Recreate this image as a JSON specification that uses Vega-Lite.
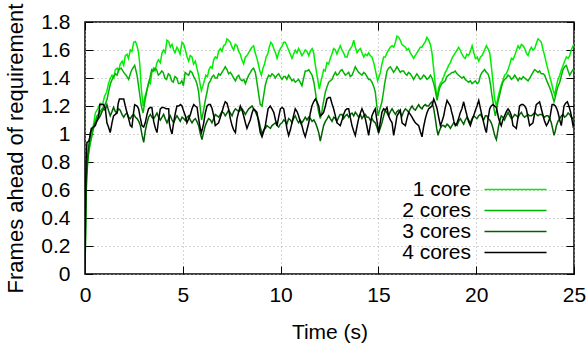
{"$schema":"https://vega.github.io/schema/vega-lite/v6.json",
"width":489,"height":252,
"autosize":{"type":"none"},
"padding":{"left":85,"top":22,"right":13,"bottom":69},
"background":"white",
"config":{"font":"Liberation Sans","view":{"stroke":"#000","strokeWidth":1.5},
"axis":{"domain":false,"labelFont":"Liberation Sans","labelFontSize":21,"labelColor":"#000","titleFont":"Liberation Sans","titleFontSize":21,"titleFontWeight":"normal","titleColor":"#000","tickColor":"#000","tickWidth":1,"tickSize":-8,"gridColor":"#a8a8a8","gridDash":[1,3],"gridWidth":1,"labelFlush":false,"labelOverlap":false}},
"data":{"values":[
{"s":1,"t":0,"v":0},{"s":1,"t":0.04,"v":0.5},{"s":1,"t":0.08,"v":0.72},{"s":1,"t":0.15,"v":0.84},{"s":1,"t":0.25,"v":0.93},{"s":1,"t":0.35,"v":1.0},{"s":1,"t":0.45,"v":1.08},{"s":1,"t":0.53,"v":1.15},{"s":1,"t":0.65,"v":1.18},{"s":1,"t":0.78,"v":1.22},{"s":1,"t":0.9,"v":1.21},{"s":1,"t":1.0,"v":1.27},{"s":1,"t":1.11,"v":1.3},{"s":1,"t":1.2,"v":1.36},{"s":1,"t":1.3,"v":1.4},{"s":1,"t":1.38,"v":1.42},{"s":1,"t":1.47,"v":1.4},{"s":1,"t":1.55,"v":1.46},{"s":1,"t":1.65,"v":1.47},{"s":1,"t":1.72,"v":1.45},{"s":1,"t":1.8,"v":1.5},{"s":1,"t":1.9,"v":1.52},{"s":1,"t":1.98,"v":1.49},{"s":1,"t":2.06,"v":1.56},{"s":1,"t":2.15,"v":1.57},{"s":1,"t":2.22,"v":1.54},{"s":1,"t":2.32,"v":1.6},{"s":1,"t":2.4,"v":1.59},{"s":1,"t":2.49,"v":1.655},{"s":1,"t":2.58,"v":1.66},{"s":1,"t":2.66,"v":1.63},{"s":1,"t":2.74,"v":1.58},{"s":1,"t":2.8,"v":1.5},{"s":1,"t":2.88,"v":1.32},{"s":1,"t":2.97,"v":1.2},{"s":1,"t":3.07,"v":1.27},{"s":1,"t":3.17,"v":1.32},{"s":1,"t":3.27,"v":1.37},{"s":1,"t":3.34,"v":1.36},{"s":1,"t":3.42,"v":1.44},{"s":1,"t":3.5,"v":1.47},{"s":1,"t":3.58,"v":1.45},{"s":1,"t":3.68,"v":1.51},{"s":1,"t":3.76,"v":1.53},{"s":1,"t":3.85,"v":1.51},{"s":1,"t":3.94,"v":1.58},{"s":1,"t":4.02,"v":1.6},{"s":1,"t":4.1,"v":1.58},{"s":1,"t":4.19,"v":1.67},{"s":1,"t":4.28,"v":1.66},{"s":1,"t":4.36,"v":1.62},{"s":1,"t":4.45,"v":1.64},{"s":1,"t":4.53,"v":1.6},{"s":1,"t":4.6,"v":1.58},{"s":1,"t":4.7,"v":1.62},{"s":1,"t":4.78,"v":1.6},{"s":1,"t":4.86,"v":1.57},{"s":1,"t":4.96,"v":1.655},{"s":1,"t":5.05,"v":1.64},{"s":1,"t":5.13,"v":1.6},{"s":1,"t":5.22,"v":1.55},{"s":1,"t":5.3,"v":1.52},{"s":1,"t":5.38,"v":1.56},{"s":1,"t":5.47,"v":1.55},{"s":1,"t":5.55,"v":1.5},{"s":1,"t":5.64,"v":1.52},{"s":1,"t":5.72,"v":1.47},{"s":1,"t":5.81,"v":1.42},{"s":1,"t":5.88,"v":1.36},{"s":1,"t":5.95,"v":1.31},{"s":1,"t":6.02,"v":1.34},{"s":1,"t":6.1,"v":1.38},{"s":1,"t":6.18,"v":1.42},{"s":1,"t":6.26,"v":1.41},{"s":1,"t":6.34,"v":1.46},{"s":1,"t":6.42,"v":1.48},{"s":1,"t":6.5,"v":1.47},{"s":1,"t":6.58,"v":1.53},{"s":1,"t":6.66,"v":1.55},{"s":1,"t":6.75,"v":1.54},{"s":1,"t":6.83,"v":1.59},{"s":1,"t":6.92,"v":1.61},{"s":1,"t":7.0,"v":1.59},{"s":1,"t":7.09,"v":1.63},{"s":1,"t":7.18,"v":1.64},{"s":1,"t":7.26,"v":1.68},{"s":1,"t":7.34,"v":1.67},{"s":1,"t":7.43,"v":1.655},{"s":1,"t":7.52,"v":1.62},{"s":1,"t":7.6,"v":1.6},{"s":1,"t":7.68,"v":1.64},{"s":1,"t":7.77,"v":1.63},{"s":1,"t":7.86,"v":1.59},{"s":1,"t":7.94,"v":1.57},{"s":1,"t":8.02,"v":1.53},{"s":1,"t":8.11,"v":1.5},{"s":1,"t":8.2,"v":1.55},{"s":1,"t":8.28,"v":1.56},{"s":1,"t":8.36,"v":1.58},{"s":1,"t":8.45,"v":1.6},{"s":1,"t":8.54,"v":1.62},{"s":1,"t":8.62,"v":1.63},{"s":1,"t":8.7,"v":1.58},{"s":1,"t":8.79,"v":1.54},{"s":1,"t":8.86,"v":1.5},{"s":1,"t":8.94,"v":1.45},{"s":1,"t":9.02,"v":1.42},{"s":1,"t":9.1,"v":1.47},{"s":1,"t":9.18,"v":1.5},{"s":1,"t":9.26,"v":1.55},{"s":1,"t":9.34,"v":1.57},{"s":1,"t":9.42,"v":1.62},{"s":1,"t":9.5,"v":1.655},{"s":1,"t":9.58,"v":1.64},{"s":1,"t":9.65,"v":1.61},{"s":1,"t":9.74,"v":1.58},{"s":1,"t":9.82,"v":1.54},{"s":1,"t":9.9,"v":1.58},{"s":1,"t":9.99,"v":1.61},{"s":1,"t":10.08,"v":1.63},{"s":1,"t":10.16,"v":1.655},{"s":1,"t":10.24,"v":1.655},{"s":1,"t":10.32,"v":1.63},{"s":1,"t":10.41,"v":1.6},{"s":1,"t":10.5,"v":1.57},{"s":1,"t":10.58,"v":1.54},{"s":1,"t":10.66,"v":1.57},{"s":1,"t":10.75,"v":1.6},{"s":1,"t":10.84,"v":1.58},{"s":1,"t":10.92,"v":1.61},{"s":1,"t":11.0,"v":1.59},{"s":1,"t":11.09,"v":1.56},{"s":1,"t":11.18,"v":1.58},{"s":1,"t":11.26,"v":1.6},{"s":1,"t":11.35,"v":1.59},{"s":1,"t":11.44,"v":1.56},{"s":1,"t":11.52,"v":1.59},{"s":1,"t":11.61,"v":1.61},{"s":1,"t":11.69,"v":1.58},{"s":1,"t":11.78,"v":1.49},{"s":1,"t":11.86,"v":1.42},{"s":1,"t":11.98,"v":1.32},{"s":1,"t":12.08,"v":1.39},{"s":1,"t":12.14,"v":1.42},{"s":1,"t":12.2,"v":1.46},{"s":1,"t":12.28,"v":1.45},{"s":1,"t":12.37,"v":1.51},{"s":1,"t":12.46,"v":1.5},{"s":1,"t":12.54,"v":1.54},{"s":1,"t":12.62,"v":1.57},{"s":1,"t":12.71,"v":1.61},{"s":1,"t":12.8,"v":1.6},{"s":1,"t":12.88,"v":1.57},{"s":1,"t":12.96,"v":1.6},{"s":1,"t":13.05,"v":1.63},{"s":1,"t":13.14,"v":1.6},{"s":1,"t":13.22,"v":1.58},{"s":1,"t":13.3,"v":1.55},{"s":1,"t":13.4,"v":1.55},{"s":1,"t":13.48,"v":1.59},{"s":1,"t":13.57,"v":1.61},{"s":1,"t":13.66,"v":1.63},{"s":1,"t":13.74,"v":1.67},{"s":1,"t":13.82,"v":1.62},{"s":1,"t":13.91,"v":1.58},{"s":1,"t":14.0,"v":1.6},{"s":1,"t":14.08,"v":1.61},{"s":1,"t":14.16,"v":1.58},{"s":1,"t":14.25,"v":1.55},{"s":1,"t":14.33,"v":1.57},{"s":1,"t":14.42,"v":1.56},{"s":1,"t":14.5,"v":1.58},{"s":1,"t":14.58,"v":1.56},{"s":1,"t":14.67,"v":1.55},{"s":1,"t":14.76,"v":1.51},{"s":1,"t":14.84,"v":1.46},{"s":1,"t":14.96,"v":1.38},{"s":1,"t":15.04,"v":1.41},{"s":1,"t":15.1,"v":1.44},{"s":1,"t":15.18,"v":1.5},{"s":1,"t":15.27,"v":1.55},{"s":1,"t":15.35,"v":1.55},{"s":1,"t":15.44,"v":1.58},{"s":1,"t":15.52,"v":1.6},{"s":1,"t":15.61,"v":1.62},{"s":1,"t":15.7,"v":1.63},{"s":1,"t":15.78,"v":1.62},{"s":1,"t":15.87,"v":1.655},{"s":1,"t":15.95,"v":1.7},{"s":1,"t":16.04,"v":1.69},{"s":1,"t":16.12,"v":1.67},{"s":1,"t":16.2,"v":1.64},{"s":1,"t":16.29,"v":1.63},{"s":1,"t":16.38,"v":1.62},{"s":1,"t":16.46,"v":1.6},{"s":1,"t":16.54,"v":1.61},{"s":1,"t":16.63,"v":1.58},{"s":1,"t":16.72,"v":1.56},{"s":1,"t":16.8,"v":1.54},{"s":1,"t":16.88,"v":1.56},{"s":1,"t":16.97,"v":1.58},{"s":1,"t":17.06,"v":1.6},{"s":1,"t":17.14,"v":1.62},{"s":1,"t":17.22,"v":1.62},{"s":1,"t":17.31,"v":1.64},{"s":1,"t":17.4,"v":1.66},{"s":1,"t":17.48,"v":1.69},{"s":1,"t":17.57,"v":1.67},{"s":1,"t":17.66,"v":1.64},{"s":1,"t":17.74,"v":1.58},{"s":1,"t":17.83,"v":1.46},{"s":1,"t":17.91,"v":1.35},{"s":1,"t":18.0,"v":1.26},{"s":1,"t":18.08,"v":1.33},{"s":1,"t":18.16,"v":1.36},{"s":1,"t":18.25,"v":1.38},{"s":1,"t":18.34,"v":1.41},{"s":1,"t":18.42,"v":1.44},{"s":1,"t":18.5,"v":1.46},{"s":1,"t":18.59,"v":1.49},{"s":1,"t":18.68,"v":1.51},{"s":1,"t":18.76,"v":1.54},{"s":1,"t":18.84,"v":1.56},{"s":1,"t":18.93,"v":1.58},{"s":1,"t":19.02,"v":1.6},{"s":1,"t":19.1,"v":1.62},{"s":1,"t":19.18,"v":1.6},{"s":1,"t":19.27,"v":1.57},{"s":1,"t":19.36,"v":1.55},{"s":1,"t":19.44,"v":1.54},{"s":1,"t":19.52,"v":1.57},{"s":1,"t":19.61,"v":1.56},{"s":1,"t":19.7,"v":1.59},{"s":1,"t":19.79,"v":1.63},{"s":1,"t":19.88,"v":1.58},{"s":1,"t":19.96,"v":1.54},{"s":1,"t":20.05,"v":1.55},{"s":1,"t":20.13,"v":1.52},{"s":1,"t":20.22,"v":1.55},{"s":1,"t":20.3,"v":1.56},{"s":1,"t":20.4,"v":1.59},{"s":1,"t":20.52,"v":1.63},{"s":1,"t":20.6,"v":1.61},{"s":1,"t":20.69,"v":1.58},{"s":1,"t":20.77,"v":1.49},{"s":1,"t":20.86,"v":1.37},{"s":1,"t":20.94,"v":1.25},{"s":1,"t":21.03,"v":1.2},{"s":1,"t":21.11,"v":1.26},{"s":1,"t":21.2,"v":1.31},{"s":1,"t":21.28,"v":1.35},{"s":1,"t":21.36,"v":1.38},{"s":1,"t":21.45,"v":1.42},{"s":1,"t":21.54,"v":1.43},{"s":1,"t":21.63,"v":1.46},{"s":1,"t":21.72,"v":1.5},{"s":1,"t":21.8,"v":1.54},{"s":1,"t":21.88,"v":1.53},{"s":1,"t":21.97,"v":1.56},{"s":1,"t":22.06,"v":1.6},{"s":1,"t":22.14,"v":1.63},{"s":1,"t":22.22,"v":1.61},{"s":1,"t":22.31,"v":1.64},{"s":1,"t":22.4,"v":1.63},{"s":1,"t":22.48,"v":1.61},{"s":1,"t":22.56,"v":1.58},{"s":1,"t":22.65,"v":1.56},{"s":1,"t":22.74,"v":1.6},{"s":1,"t":22.82,"v":1.62},{"s":1,"t":22.9,"v":1.6},{"s":1,"t":22.99,"v":1.61},{"s":1,"t":23.08,"v":1.65},{"s":1,"t":23.16,"v":1.68},{"s":1,"t":23.24,"v":1.67},{"s":1,"t":23.33,"v":1.655},{"s":1,"t":23.42,"v":1.6},{"s":1,"t":23.5,"v":1.56},{"s":1,"t":23.58,"v":1.51},{"s":1,"t":23.67,"v":1.46},{"s":1,"t":23.76,"v":1.41},{"s":1,"t":23.84,"v":1.37},{"s":1,"t":23.92,"v":1.32},{"s":1,"t":24.01,"v":1.28},{"s":1,"t":24.1,"v":1.34},{"s":1,"t":24.18,"v":1.39},{"s":1,"t":24.27,"v":1.42},{"s":1,"t":24.36,"v":1.46},{"s":1,"t":24.44,"v":1.49},{"s":1,"t":24.52,"v":1.52},{"s":1,"t":24.61,"v":1.55},{"s":1,"t":24.7,"v":1.54},{"s":1,"t":24.78,"v":1.56},{"s":1,"t":24.86,"v":1.6},{"s":1,"t":24.95,"v":1.63},{"s":1,"t":25.0,"v":1.64},
{"s":2,"t":0,"v":0},{"s":2,"t":0.04,"v":0.45},{"s":2,"t":0.08,"v":0.68},{"s":2,"t":0.15,"v":0.82},{"s":2,"t":0.25,"v":0.92},{"s":2,"t":0.36,"v":0.99},{"s":2,"t":0.48,"v":1.07},{"s":2,"t":0.61,"v":1.13},{"s":2,"t":0.74,"v":1.15},{"s":2,"t":0.87,"v":1.18},{"s":2,"t":1.0,"v":1.2},{"s":2,"t":1.13,"v":1.25},{"s":2,"t":1.22,"v":1.31},{"s":2,"t":1.3,"v":1.36},{"s":2,"t":1.42,"v":1.4},{"s":2,"t":1.55,"v":1.43},{"s":2,"t":1.64,"v":1.42},{"s":2,"t":1.72,"v":1.46},{"s":2,"t":1.85,"v":1.47},{"s":2,"t":1.98,"v":1.44},{"s":2,"t":2.1,"v":1.42},{"s":2,"t":2.23,"v":1.39},{"s":2,"t":2.32,"v":1.43},{"s":2,"t":2.4,"v":1.46},{"s":2,"t":2.54,"v":1.49},{"s":2,"t":2.66,"v":1.42},{"s":2,"t":2.78,"v":1.3},{"s":2,"t":2.88,"v":1.2},{"s":2,"t":2.97,"v":1.15},{"s":2,"t":3.07,"v":1.24},{"s":2,"t":3.15,"v":1.3},{"s":2,"t":3.24,"v":1.36},{"s":2,"t":3.32,"v":1.4},{"s":2,"t":3.41,"v":1.46},{"s":2,"t":3.49,"v":1.45},{"s":2,"t":3.58,"v":1.47},{"s":2,"t":3.66,"v":1.46},{"s":2,"t":3.75,"v":1.42},{"s":2,"t":3.83,"v":1.43},{"s":2,"t":3.92,"v":1.45},{"s":2,"t":4.0,"v":1.44},{"s":2,"t":4.08,"v":1.4},{"s":2,"t":4.17,"v":1.39},{"s":2,"t":4.26,"v":1.43},{"s":2,"t":4.34,"v":1.42},{"s":2,"t":4.43,"v":1.38},{"s":2,"t":4.51,"v":1.37},{"s":2,"t":4.6,"v":1.41},{"s":2,"t":4.69,"v":1.4},{"s":2,"t":4.78,"v":1.36},{"s":2,"t":4.86,"v":1.36},{"s":2,"t":4.95,"v":1.38},{"s":2,"t":5.03,"v":1.345},{"s":2,"t":5.12,"v":1.44},{"s":2,"t":5.2,"v":1.43},{"s":2,"t":5.3,"v":1.42},{"s":2,"t":5.38,"v":1.45},{"s":2,"t":5.47,"v":1.44},{"s":2,"t":5.56,"v":1.41},{"s":2,"t":5.64,"v":1.39},{"s":2,"t":5.72,"v":1.36},{"s":2,"t":5.81,"v":1.3},{"s":2,"t":5.88,"v":1.2},{"s":2,"t":5.96,"v":1.1},{"s":2,"t":6.05,"v":1.16},{"s":2,"t":6.15,"v":1.24},{"s":2,"t":6.24,"v":1.3},{"s":2,"t":6.32,"v":1.36},{"s":2,"t":6.41,"v":1.38},{"s":2,"t":6.5,"v":1.41},{"s":2,"t":6.58,"v":1.42},{"s":2,"t":6.66,"v":1.4},{"s":2,"t":6.75,"v":1.4},{"s":2,"t":6.83,"v":1.43},{"s":2,"t":6.92,"v":1.42},{"s":2,"t":7.0,"v":1.44},{"s":2,"t":7.09,"v":1.46},{"s":2,"t":7.17,"v":1.48},{"s":2,"t":7.26,"v":1.46},{"s":2,"t":7.34,"v":1.43},{"s":2,"t":7.43,"v":1.44},{"s":2,"t":7.52,"v":1.42},{"s":2,"t":7.6,"v":1.4},{"s":2,"t":7.69,"v":1.38},{"s":2,"t":7.78,"v":1.41},{"s":2,"t":7.86,"v":1.42},{"s":2,"t":7.94,"v":1.39},{"s":2,"t":8.03,"v":1.38},{"s":2,"t":8.12,"v":1.39},{"s":2,"t":8.2,"v":1.36},{"s":2,"t":8.28,"v":1.39},{"s":2,"t":8.37,"v":1.42},{"s":2,"t":8.46,"v":1.44},{"s":2,"t":8.54,"v":1.46},{"s":2,"t":8.62,"v":1.47},{"s":2,"t":8.71,"v":1.44},{"s":2,"t":8.78,"v":1.38},{"s":2,"t":8.84,"v":1.32},{"s":2,"t":8.96,"v":1.21},{"s":2,"t":9.05,"v":1.2},{"s":2,"t":9.14,"v":1.28},{"s":2,"t":9.22,"v":1.35},{"s":2,"t":9.3,"v":1.39},{"s":2,"t":9.39,"v":1.42},{"s":2,"t":9.48,"v":1.41},{"s":2,"t":9.56,"v":1.43},{"s":2,"t":9.65,"v":1.42},{"s":2,"t":9.73,"v":1.4},{"s":2,"t":9.82,"v":1.42},{"s":2,"t":9.9,"v":1.43},{"s":2,"t":9.98,"v":1.41},{"s":2,"t":10.07,"v":1.39},{"s":2,"t":10.16,"v":1.41},{"s":2,"t":10.24,"v":1.41},{"s":2,"t":10.32,"v":1.39},{"s":2,"t":10.41,"v":1.42},{"s":2,"t":10.5,"v":1.4},{"s":2,"t":10.58,"v":1.38},{"s":2,"t":10.66,"v":1.39},{"s":2,"t":10.75,"v":1.37},{"s":2,"t":10.84,"v":1.38},{"s":2,"t":10.92,"v":1.39},{"s":2,"t":11.0,"v":1.37},{"s":2,"t":11.09,"v":1.345},{"s":2,"t":11.18,"v":1.4},{"s":2,"t":11.26,"v":1.45},{"s":2,"t":11.35,"v":1.45},{"s":2,"t":11.44,"v":1.46},{"s":2,"t":11.52,"v":1.44},{"s":2,"t":11.61,"v":1.42},{"s":2,"t":11.7,"v":1.37},{"s":2,"t":11.78,"v":1.3},{"s":2,"t":11.86,"v":1.22},{"s":2,"t":11.94,"v":1.16},{"s":2,"t":12.03,"v":1.11},{"s":2,"t":12.1,"v":1.15},{"s":2,"t":12.18,"v":1.22},{"s":2,"t":12.29,"v":1.3},{"s":2,"t":12.38,"v":1.34},{"s":2,"t":12.46,"v":1.37},{"s":2,"t":12.54,"v":1.38},{"s":2,"t":12.63,"v":1.39},{"s":2,"t":12.72,"v":1.42},{"s":2,"t":12.8,"v":1.44},{"s":2,"t":12.88,"v":1.42},{"s":2,"t":12.97,"v":1.43},{"s":2,"t":13.05,"v":1.45},{"s":2,"t":13.14,"v":1.46},{"s":2,"t":13.22,"v":1.44},{"s":2,"t":13.31,"v":1.42},{"s":2,"t":13.4,"v":1.43},{"s":2,"t":13.48,"v":1.44},{"s":2,"t":13.56,"v":1.41},{"s":2,"t":13.65,"v":1.42},{"s":2,"t":13.74,"v":1.45},{"s":2,"t":13.82,"v":1.48},{"s":2,"t":13.9,"v":1.46},{"s":2,"t":13.99,"v":1.44},{"s":2,"t":14.08,"v":1.43},{"s":2,"t":14.16,"v":1.42},{"s":2,"t":14.25,"v":1.44},{"s":2,"t":14.33,"v":1.43},{"s":2,"t":14.42,"v":1.41},{"s":2,"t":14.5,"v":1.39},{"s":2,"t":14.58,"v":1.39},{"s":2,"t":14.67,"v":1.37},{"s":2,"t":14.76,"v":1.34},{"s":2,"t":14.84,"v":1.3},{"s":2,"t":14.92,"v":1.2},{"s":2,"t":14.98,"v":1.13},{"s":2,"t":15.08,"v":1.18},{"s":2,"t":15.18,"v":1.23},{"s":2,"t":15.26,"v":1.3},{"s":2,"t":15.32,"v":1.36},{"s":2,"t":15.44,"v":1.45},{"s":2,"t":15.52,"v":1.47},{"s":2,"t":15.61,"v":1.48},{"s":2,"t":15.7,"v":1.46},{"s":2,"t":15.78,"v":1.44},{"s":2,"t":15.87,"v":1.46},{"s":2,"t":15.95,"v":1.48},{"s":2,"t":16.04,"v":1.46},{"s":2,"t":16.12,"v":1.44},{"s":2,"t":16.2,"v":1.45},{"s":2,"t":16.29,"v":1.45},{"s":2,"t":16.38,"v":1.43},{"s":2,"t":16.46,"v":1.42},{"s":2,"t":16.54,"v":1.44},{"s":2,"t":16.63,"v":1.43},{"s":2,"t":16.72,"v":1.41},{"s":2,"t":16.8,"v":1.39},{"s":2,"t":16.88,"v":1.41},{"s":2,"t":16.97,"v":1.43},{"s":2,"t":17.06,"v":1.41},{"s":2,"t":17.14,"v":1.39},{"s":2,"t":17.22,"v":1.4},{"s":2,"t":17.31,"v":1.42},{"s":2,"t":17.4,"v":1.41},{"s":2,"t":17.48,"v":1.39},{"s":2,"t":17.57,"v":1.4},{"s":2,"t":17.66,"v":1.42},{"s":2,"t":17.74,"v":1.4},{"s":2,"t":17.83,"v":1.36},{"s":2,"t":17.91,"v":1.31},{"s":2,"t":18.0,"v":1.24},{"s":2,"t":18.08,"v":1.3},{"s":2,"t":18.16,"v":1.34},{"s":2,"t":18.25,"v":1.36},{"s":2,"t":18.34,"v":1.37},{"s":2,"t":18.42,"v":1.38},{"s":2,"t":18.5,"v":1.41},{"s":2,"t":18.59,"v":1.42},{"s":2,"t":18.68,"v":1.43},{"s":2,"t":18.76,"v":1.44},{"s":2,"t":18.84,"v":1.44},{"s":2,"t":18.93,"v":1.45},{"s":2,"t":19.02,"v":1.43},{"s":2,"t":19.1,"v":1.42},{"s":2,"t":19.18,"v":1.41},{"s":2,"t":19.27,"v":1.4},{"s":2,"t":19.36,"v":1.41},{"s":2,"t":19.44,"v":1.39},{"s":2,"t":19.52,"v":1.38},{"s":2,"t":19.61,"v":1.37},{"s":2,"t":19.7,"v":1.38},{"s":2,"t":19.79,"v":1.36},{"s":2,"t":19.88,"v":1.37},{"s":2,"t":19.96,"v":1.38},{"s":2,"t":20.05,"v":1.36},{"s":2,"t":20.13,"v":1.37},{"s":2,"t":20.22,"v":1.42},{"s":2,"t":20.3,"v":1.44},{"s":2,"t":20.43,"v":1.46},{"s":2,"t":20.52,"v":1.44},{"s":2,"t":20.6,"v":1.43},{"s":2,"t":20.67,"v":1.4},{"s":2,"t":20.74,"v":1.345},{"s":2,"t":20.8,"v":1.28},{"s":2,"t":20.86,"v":1.23},{"s":2,"t":20.92,"v":1.17},{"s":2,"t":20.98,"v":1.13},{"s":2,"t":21.05,"v":1.18},{"s":2,"t":21.11,"v":1.23},{"s":2,"t":21.2,"v":1.28},{"s":2,"t":21.28,"v":1.33},{"s":2,"t":21.36,"v":1.37},{"s":2,"t":21.45,"v":1.39},{"s":2,"t":21.54,"v":1.4},{"s":2,"t":21.63,"v":1.42},{"s":2,"t":21.72,"v":1.41},{"s":2,"t":21.8,"v":1.39},{"s":2,"t":21.88,"v":1.4},{"s":2,"t":21.97,"v":1.42},{"s":2,"t":22.06,"v":1.4},{"s":2,"t":22.14,"v":1.38},{"s":2,"t":22.22,"v":1.4},{"s":2,"t":22.31,"v":1.39},{"s":2,"t":22.4,"v":1.41},{"s":2,"t":22.48,"v":1.4},{"s":2,"t":22.56,"v":1.39},{"s":2,"t":22.65,"v":1.38},{"s":2,"t":22.74,"v":1.4},{"s":2,"t":22.82,"v":1.42},{"s":2,"t":22.9,"v":1.44},{"s":2,"t":22.99,"v":1.46},{"s":2,"t":23.08,"v":1.45},{"s":2,"t":23.16,"v":1.44},{"s":2,"t":23.24,"v":1.45},{"s":2,"t":23.33,"v":1.43},{"s":2,"t":23.42,"v":1.43},{"s":2,"t":23.5,"v":1.42},{"s":2,"t":23.58,"v":1.39},{"s":2,"t":23.67,"v":1.36},{"s":2,"t":23.76,"v":1.33},{"s":2,"t":23.84,"v":1.3},{"s":2,"t":23.92,"v":1.26},{"s":2,"t":23.98,"v":1.23},{"s":2,"t":24.04,"v":1.26},{"s":2,"t":24.1,"v":1.3},{"s":2,"t":24.18,"v":1.34},{"s":2,"t":24.27,"v":1.37},{"s":2,"t":24.36,"v":1.42},{"s":2,"t":24.44,"v":1.46},{"s":2,"t":24.52,"v":1.48},{"s":2,"t":24.61,"v":1.49},{"s":2,"t":24.7,"v":1.45},{"s":2,"t":24.78,"v":1.42},{"s":2,"t":24.86,"v":1.44},{"s":2,"t":24.95,"v":1.46},{"s":2,"t":25.0,"v":1.45},
{"s":3,"t":0,"v":0},{"s":3,"t":0.04,"v":0.45},{"s":3,"t":0.08,"v":0.7},{"s":3,"t":0.15,"v":0.86},{"s":3,"t":0.27,"v":1.01},{"s":3,"t":0.4,"v":1.04},{"s":3,"t":0.53,"v":1.08},{"s":3,"t":0.65,"v":1.1},{"s":3,"t":0.78,"v":1.13},{"s":3,"t":0.87,"v":1.16},{"s":3,"t":0.95,"v":1.18},{"s":3,"t":1.03,"v":1.17},{"s":3,"t":1.12,"v":1.21},{"s":3,"t":1.2,"v":1.17},{"s":3,"t":1.29,"v":1.13},{"s":3,"t":1.38,"v":1.16},{"s":3,"t":1.46,"v":1.19},{"s":3,"t":1.55,"v":1.16},{"s":3,"t":1.63,"v":1.15},{"s":3,"t":1.72,"v":1.18},{"s":3,"t":1.8,"v":1.17},{"s":3,"t":1.89,"v":1.14},{"s":3,"t":1.98,"v":1.12},{"s":3,"t":2.06,"v":1.14},{"s":3,"t":2.15,"v":1.15},{"s":3,"t":2.23,"v":1.12},{"s":3,"t":2.32,"v":1.11},{"s":3,"t":2.4,"v":1.13},{"s":3,"t":2.49,"v":1.14},{"s":3,"t":2.58,"v":1.12},{"s":3,"t":2.66,"v":1.11},{"s":3,"t":2.75,"v":1.09},{"s":3,"t":2.83,"v":1.06},{"s":3,"t":2.92,"v":0.99},{"s":3,"t":3.0,"v":0.94},{"s":3,"t":3.08,"v":1.02},{"s":3,"t":3.17,"v":1.08},{"s":3,"t":3.25,"v":1.12},{"s":3,"t":3.34,"v":1.14},{"s":3,"t":3.42,"v":1.12},{"s":3,"t":3.51,"v":1.11},{"s":3,"t":3.6,"v":1.13},{"s":3,"t":3.68,"v":1.15},{"s":3,"t":3.76,"v":1.12},{"s":3,"t":3.85,"v":1.1},{"s":3,"t":3.94,"v":1.12},{"s":3,"t":4.02,"v":1.14},{"s":3,"t":4.1,"v":1.11},{"s":3,"t":4.19,"v":1.08},{"s":3,"t":4.28,"v":1.11},{"s":3,"t":4.36,"v":1.13},{"s":3,"t":4.45,"v":1.1},{"s":3,"t":4.53,"v":1.08},{"s":3,"t":4.62,"v":1.11},{"s":3,"t":4.7,"v":1.13},{"s":3,"t":4.79,"v":1.11},{"s":3,"t":4.87,"v":1.09},{"s":3,"t":4.96,"v":1.12},{"s":3,"t":5.05,"v":1.11},{"s":3,"t":5.13,"v":1.095},{"s":3,"t":5.22,"v":1.12},{"s":3,"t":5.3,"v":1.13},{"s":3,"t":5.38,"v":1.1},{"s":3,"t":5.47,"v":1.08},{"s":3,"t":5.56,"v":1.1},{"s":3,"t":5.64,"v":1.11},{"s":3,"t":5.72,"v":1.09},{"s":3,"t":5.81,"v":1.06},{"s":3,"t":5.9,"v":1.0},{"s":3,"t":5.98,"v":0.96},{"s":3,"t":6.06,"v":1.01},{"s":3,"t":6.15,"v":1.06},{"s":3,"t":6.24,"v":1.09},{"s":3,"t":6.32,"v":1.11},{"s":3,"t":6.41,"v":1.1},{"s":3,"t":6.49,"v":1.08},{"s":3,"t":6.58,"v":1.11},{"s":3,"t":6.66,"v":1.14},{"s":3,"t":6.75,"v":1.13},{"s":3,"t":6.83,"v":1.12},{"s":3,"t":6.92,"v":1.14},{"s":3,"t":7.0,"v":1.16},{"s":3,"t":7.09,"v":1.15},{"s":3,"t":7.17,"v":1.13},{"s":3,"t":7.26,"v":1.15},{"s":3,"t":7.34,"v":1.17},{"s":3,"t":7.43,"v":1.15},{"s":3,"t":7.52,"v":1.13},{"s":3,"t":7.6,"v":1.16},{"s":3,"t":7.69,"v":1.18},{"s":3,"t":7.78,"v":1.17},{"s":3,"t":7.86,"v":1.16},{"s":3,"t":7.94,"v":1.17},{"s":3,"t":8.03,"v":1.18},{"s":3,"t":8.12,"v":1.16},{"s":3,"t":8.2,"v":1.14},{"s":3,"t":8.28,"v":1.16},{"s":3,"t":8.37,"v":1.18},{"s":3,"t":8.46,"v":1.19},{"s":3,"t":8.54,"v":1.2},{"s":3,"t":8.62,"v":1.18},{"s":3,"t":8.71,"v":1.16},{"s":3,"t":8.8,"v":1.13},{"s":3,"t":8.88,"v":1.1},{"s":3,"t":8.96,"v":1.05},{"s":3,"t":9.05,"v":1.0},{"s":3,"t":9.14,"v":1.03},{"s":3,"t":9.22,"v":1.04},{"s":3,"t":9.3,"v":1.06},{"s":3,"t":9.39,"v":1.05},{"s":3,"t":9.48,"v":1.04},{"s":3,"t":9.56,"v":1.06},{"s":3,"t":9.65,"v":1.07},{"s":3,"t":9.73,"v":1.08},{"s":3,"t":9.82,"v":1.06},{"s":3,"t":9.9,"v":1.05},{"s":3,"t":9.98,"v":1.07},{"s":3,"t":10.07,"v":1.08},{"s":3,"t":10.16,"v":1.1},{"s":3,"t":10.24,"v":1.09},{"s":3,"t":10.32,"v":1.07},{"s":3,"t":10.41,"v":1.11},{"s":3,"t":10.5,"v":1.1},{"s":3,"t":10.58,"v":1.08},{"s":3,"t":10.66,"v":1.11},{"s":3,"t":10.75,"v":1.13},{"s":3,"t":10.84,"v":1.1},{"s":3,"t":10.92,"v":1.08},{"s":3,"t":11.0,"v":1.1},{"s":3,"t":11.09,"v":1.08},{"s":3,"t":11.18,"v":1.1},{"s":3,"t":11.26,"v":1.12},{"s":3,"t":11.35,"v":1.1},{"s":3,"t":11.44,"v":1.12},{"s":3,"t":11.52,"v":1.11},{"s":3,"t":11.61,"v":1.09},{"s":3,"t":11.7,"v":1.1},{"s":3,"t":11.78,"v":1.08},{"s":3,"t":11.86,"v":1.05},{"s":3,"t":11.95,"v":1.01},{"s":3,"t":12.03,"v":0.95},{"s":3,"t":12.12,"v":1.01},{"s":3,"t":12.2,"v":1.06},{"s":3,"t":12.29,"v":1.09},{"s":3,"t":12.38,"v":1.11},{"s":3,"t":12.46,"v":1.13},{"s":3,"t":12.54,"v":1.11},{"s":3,"t":12.63,"v":1.09},{"s":3,"t":12.72,"v":1.12},{"s":3,"t":12.8,"v":1.11},{"s":3,"t":12.88,"v":1.09},{"s":3,"t":12.97,"v":1.12},{"s":3,"t":13.05,"v":1.14},{"s":3,"t":13.14,"v":1.14},{"s":3,"t":13.22,"v":1.11},{"s":3,"t":13.31,"v":1.13},{"s":3,"t":13.4,"v":1.14},{"s":3,"t":13.48,"v":1.12},{"s":3,"t":13.56,"v":1.14},{"s":3,"t":13.65,"v":1.15},{"s":3,"t":13.74,"v":1.13},{"s":3,"t":13.82,"v":1.155},{"s":3,"t":13.9,"v":1.14},{"s":3,"t":13.99,"v":1.12},{"s":3,"t":14.08,"v":1.14},{"s":3,"t":14.16,"v":1.11},{"s":3,"t":14.25,"v":1.13},{"s":3,"t":14.33,"v":1.14},{"s":3,"t":14.42,"v":1.12},{"s":3,"t":14.5,"v":1.12},{"s":3,"t":14.58,"v":1.1},{"s":3,"t":14.67,"v":1.11},{"s":3,"t":14.76,"v":1.09},{"s":3,"t":14.84,"v":1.08},{"s":3,"t":14.92,"v":1.05},{"s":3,"t":15.01,"v":1.01},{"s":3,"t":15.09,"v":1.04},{"s":3,"t":15.18,"v":1.08},{"s":3,"t":15.27,"v":1.13},{"s":3,"t":15.35,"v":1.17},{"s":3,"t":15.44,"v":1.15},{"s":3,"t":15.52,"v":1.13},{"s":3,"t":15.61,"v":1.16},{"s":3,"t":15.7,"v":1.18},{"s":3,"t":15.78,"v":1.16},{"s":3,"t":15.87,"v":1.14},{"s":3,"t":15.95,"v":1.16},{"s":3,"t":16.04,"v":1.17},{"s":3,"t":16.12,"v":1.15},{"s":3,"t":16.21,"v":1.13},{"s":3,"t":16.29,"v":1.16},{"s":3,"t":16.38,"v":1.18},{"s":3,"t":16.46,"v":1.17},{"s":3,"t":16.55,"v":1.155},{"s":3,"t":16.63,"v":1.18},{"s":3,"t":16.72,"v":1.2},{"s":3,"t":16.8,"v":1.18},{"s":3,"t":16.89,"v":1.17},{"s":3,"t":16.97,"v":1.19},{"s":3,"t":17.06,"v":1.21},{"s":3,"t":17.14,"v":1.19},{"s":3,"t":17.23,"v":1.18},{"s":3,"t":17.31,"v":1.2},{"s":3,"t":17.4,"v":1.21},{"s":3,"t":17.48,"v":1.2},{"s":3,"t":17.57,"v":1.2},{"s":3,"t":17.66,"v":1.22},{"s":3,"t":17.74,"v":1.23},{"s":3,"t":17.83,"v":1.18},{"s":3,"t":17.91,"v":1.11},{"s":3,"t":17.98,"v":1.04},{"s":3,"t":18.05,"v":0.99},{"s":3,"t":18.11,"v":1.02},{"s":3,"t":18.17,"v":1.04},{"s":3,"t":18.25,"v":1.06},{"s":3,"t":18.34,"v":1.06},{"s":3,"t":18.42,"v":1.05},{"s":3,"t":18.51,"v":1.07},{"s":3,"t":18.59,"v":1.06},{"s":3,"t":18.68,"v":1.04},{"s":3,"t":18.76,"v":1.06},{"s":3,"t":18.85,"v":1.08},{"s":3,"t":18.93,"v":1.07},{"s":3,"t":19.02,"v":1.06},{"s":3,"t":19.1,"v":1.09},{"s":3,"t":19.19,"v":1.11},{"s":3,"t":19.27,"v":1.09},{"s":3,"t":19.36,"v":1.07},{"s":3,"t":19.44,"v":1.1},{"s":3,"t":19.53,"v":1.12},{"s":3,"t":19.61,"v":1.1},{"s":3,"t":19.7,"v":1.08},{"s":3,"t":19.79,"v":1.11},{"s":3,"t":19.87,"v":1.13},{"s":3,"t":19.96,"v":1.12},{"s":3,"t":20.04,"v":1.11},{"s":3,"t":20.13,"v":1.13},{"s":3,"t":20.21,"v":1.14},{"s":3,"t":20.3,"v":1.12},{"s":3,"t":20.38,"v":1.1},{"s":3,"t":20.47,"v":1.13},{"s":3,"t":20.55,"v":1.13},{"s":3,"t":20.6,"v":1.11},{"s":3,"t":20.69,"v":1.1},{"s":3,"t":20.77,"v":1.08},{"s":3,"t":20.84,"v":1.05},{"s":3,"t":20.91,"v":1.01},{"s":3,"t":20.97,"v":0.98},{"s":3,"t":21.03,"v":0.96},{"s":3,"t":21.09,"v":1.01},{"s":3,"t":21.15,"v":1.06},{"s":3,"t":21.22,"v":1.1},{"s":3,"t":21.28,"v":1.13},{"s":3,"t":21.36,"v":1.12},{"s":3,"t":21.45,"v":1.1},{"s":3,"t":21.54,"v":1.13},{"s":3,"t":21.63,"v":1.155},{"s":3,"t":21.72,"v":1.13},{"s":3,"t":21.8,"v":1.11},{"s":3,"t":21.88,"v":1.12},{"s":3,"t":21.97,"v":1.14},{"s":3,"t":22.06,"v":1.13},{"s":3,"t":22.14,"v":1.12},{"s":3,"t":22.22,"v":1.14},{"s":3,"t":22.31,"v":1.155},{"s":3,"t":22.4,"v":1.13},{"s":3,"t":22.48,"v":1.12},{"s":3,"t":22.56,"v":1.13},{"s":3,"t":22.65,"v":1.14},{"s":3,"t":22.74,"v":1.13},{"s":3,"t":22.82,"v":1.13},{"s":3,"t":22.9,"v":1.14},{"s":3,"t":22.99,"v":1.155},{"s":3,"t":23.08,"v":1.14},{"s":3,"t":23.16,"v":1.13},{"s":3,"t":23.24,"v":1.14},{"s":3,"t":23.33,"v":1.14},{"s":3,"t":23.42,"v":1.13},{"s":3,"t":23.5,"v":1.12},{"s":3,"t":23.58,"v":1.13},{"s":3,"t":23.67,"v":1.13},{"s":3,"t":23.76,"v":1.11},{"s":3,"t":23.84,"v":1.08},{"s":3,"t":23.92,"v":1.03},{"s":3,"t":23.98,"v":0.99},{"s":3,"t":24.04,"v":1.02},{"s":3,"t":24.1,"v":1.06},{"s":3,"t":24.18,"v":1.09},{"s":3,"t":24.27,"v":1.11},{"s":3,"t":24.36,"v":1.13},{"s":3,"t":24.44,"v":1.14},{"s":3,"t":24.52,"v":1.12},{"s":3,"t":24.61,"v":1.13},{"s":3,"t":24.7,"v":1.15},{"s":3,"t":24.78,"v":1.14},{"s":3,"t":24.86,"v":1.12},{"s":3,"t":24.95,"v":1.11},{"s":3,"t":25.0,"v":1.12},
{"s":4,"t":0,"v":0},{"s":4,"t":0.03,"v":0.6},{"s":4,"t":0.06,"v":0.82},{"s":4,"t":0.1,"v":0.94},{"s":4,"t":0.2,"v":0.95},{"s":4,"t":0.27,"v":0.99},{"s":4,"t":0.32,"v":1.04},{"s":4,"t":0.45,"v":1.05},{"s":4,"t":0.53,"v":1.06},{"s":4,"t":0.62,"v":1.1},{"s":4,"t":0.7,"v":1.13},{"s":4,"t":0.76,"v":1.21},{"s":4,"t":0.95,"v":1.21},{"s":4,"t":1.04,"v":1.18},{"s":4,"t":1.12,"v":1.08},{"s":4,"t":1.2,"v":1.05},{"s":4,"t":1.29,"v":1.01},{"s":4,"t":1.38,"v":1.08},{"s":4,"t":1.46,"v":1.13},{"s":4,"t":1.55,"v":1.14},{"s":4,"t":1.63,"v":1.15},{"s":4,"t":1.7,"v":1.22},{"s":4,"t":1.76,"v":1.25},{"s":4,"t":1.98,"v":1.25},{"s":4,"t":2.06,"v":1.2},{"s":4,"t":2.15,"v":1.15},{"s":4,"t":2.23,"v":1.11},{"s":4,"t":2.32,"v":1.06},{"s":4,"t":2.4,"v":1.05},{"s":4,"t":2.48,"v":1.15},{"s":4,"t":2.54,"v":1.21},{"s":4,"t":2.66,"v":1.2},{"s":4,"t":2.74,"v":1.18},{"s":4,"t":2.82,"v":1.12},{"s":4,"t":2.91,"v":1.06},{"s":4,"t":3.0,"v":1.05},{"s":4,"t":3.08,"v":1.08},{"s":4,"t":3.17,"v":1.14},{"s":4,"t":3.25,"v":1.18},{"s":4,"t":3.34,"v":1.19},{"s":4,"t":3.42,"v":1.19},{"s":4,"t":3.51,"v":1.09},{"s":4,"t":3.6,"v":1.04},{"s":4,"t":3.68,"v":1.01},{"s":4,"t":3.76,"v":1.1},{"s":4,"t":3.85,"v":1.18},{"s":4,"t":3.94,"v":1.19},{"s":4,"t":4.02,"v":1.19},{"s":4,"t":4.15,"v":1.18},{"s":4,"t":4.28,"v":1.18},{"s":4,"t":4.31,"v":1.08},{"s":4,"t":4.38,"v":1.03},{"s":4,"t":4.45,"v":1.0},{"s":4,"t":4.53,"v":1.08},{"s":4,"t":4.62,"v":1.15},{"s":4,"t":4.7,"v":1.2},{"s":4,"t":4.79,"v":1.2},{"s":4,"t":4.88,"v":1.21},{"s":4,"t":4.96,"v":1.2},{"s":4,"t":5.05,"v":1.16},{"s":4,"t":5.13,"v":1.13},{"s":4,"t":5.21,"v":1.08},{"s":4,"t":5.3,"v":1.11},{"s":4,"t":5.39,"v":1.14},{"s":4,"t":5.47,"v":1.18},{"s":4,"t":5.56,"v":1.21},{"s":4,"t":5.64,"v":1.2},{"s":4,"t":5.73,"v":1.19},{"s":4,"t":5.81,"v":1.11},{"s":4,"t":5.88,"v":1.05},{"s":4,"t":5.95,"v":1.01},{"s":4,"t":6.01,"v":1.04},{"s":4,"t":6.07,"v":1.08},{"s":4,"t":6.15,"v":1.15},{"s":4,"t":6.24,"v":1.2},{"s":4,"t":6.32,"v":1.21},{"s":4,"t":6.41,"v":1.21},{"s":4,"t":6.5,"v":1.18},{"s":4,"t":6.58,"v":1.13},{"s":4,"t":6.66,"v":1.06},{"s":4,"t":6.75,"v":1.07},{"s":4,"t":6.83,"v":1.08},{"s":4,"t":6.92,"v":1.12},{"s":4,"t":7.0,"v":1.155},{"s":4,"t":7.09,"v":1.2},{"s":4,"t":7.17,"v":1.23},{"s":4,"t":7.26,"v":1.22},{"s":4,"t":7.34,"v":1.18},{"s":4,"t":7.43,"v":1.11},{"s":4,"t":7.52,"v":1.06},{"s":4,"t":7.6,"v":1.03},{"s":4,"t":7.69,"v":1.01},{"s":4,"t":7.77,"v":1.11},{"s":4,"t":7.86,"v":1.16},{"s":4,"t":7.94,"v":1.2},{"s":4,"t":8.03,"v":1.17},{"s":4,"t":8.11,"v":1.13},{"s":4,"t":8.2,"v":1.08},{"s":4,"t":8.28,"v":1.04},{"s":4,"t":8.36,"v":1.07},{"s":4,"t":8.45,"v":1.1},{"s":4,"t":8.54,"v":1.15},{"s":4,"t":8.62,"v":1.18},{"s":4,"t":8.7,"v":1.17},{"s":4,"t":8.79,"v":1.155},{"s":4,"t":8.88,"v":1.08},{"s":4,"t":8.96,"v":1.01},{"s":4,"t":9.05,"v":0.98},{"s":4,"t":9.14,"v":1.02},{"s":4,"t":9.22,"v":1.06},{"s":4,"t":9.3,"v":1.13},{"s":4,"t":9.36,"v":1.18},{"s":4,"t":9.47,"v":1.2},{"s":4,"t":9.56,"v":1.18},{"s":4,"t":9.65,"v":1.155},{"s":4,"t":9.74,"v":1.1},{"s":4,"t":9.82,"v":1.06},{"s":4,"t":9.9,"v":1.12},{"s":4,"t":9.99,"v":1.18},{"s":4,"t":10.08,"v":1.19},{"s":4,"t":10.16,"v":1.18},{"s":4,"t":10.24,"v":1.11},{"s":4,"t":10.32,"v":1.04},{"s":4,"t":10.41,"v":0.99},{"s":4,"t":10.5,"v":1.03},{"s":4,"t":10.58,"v":1.08},{"s":4,"t":10.66,"v":1.13},{"s":4,"t":10.75,"v":1.18},{"s":4,"t":10.84,"v":1.16},{"s":4,"t":10.92,"v":1.13},{"s":4,"t":11.0,"v":1.09},{"s":4,"t":11.09,"v":1.06},{"s":4,"t":11.18,"v":1.01},{"s":4,"t":11.26,"v":0.98},{"s":4,"t":11.35,"v":1.03},{"s":4,"t":11.44,"v":1.08},{"s":4,"t":11.52,"v":1.15},{"s":4,"t":11.6,"v":1.2},{"s":4,"t":11.69,"v":1.23},{"s":4,"t":11.78,"v":1.25},{"s":4,"t":11.86,"v":1.23},{"s":4,"t":11.95,"v":1.2},{"s":4,"t":12.03,"v":1.13},{"s":4,"t":12.12,"v":1.14},{"s":4,"t":12.2,"v":1.155},{"s":4,"t":12.29,"v":1.2},{"s":4,"t":12.37,"v":1.25},{"s":4,"t":12.46,"v":1.26},{"s":4,"t":12.54,"v":1.26},{"s":4,"t":12.62,"v":1.22},{"s":4,"t":12.71,"v":1.18},{"s":4,"t":12.8,"v":1.13},{"s":4,"t":12.88,"v":1.08},{"s":4,"t":12.97,"v":1.07},{"s":4,"t":13.05,"v":1.06},{"s":4,"t":13.14,"v":1.1},{"s":4,"t":13.22,"v":1.14},{"s":4,"t":13.31,"v":1.17},{"s":4,"t":13.4,"v":1.18},{"s":4,"t":13.48,"v":1.18},{"s":4,"t":13.56,"v":1.12},{"s":4,"t":13.65,"v":1.06},{"s":4,"t":13.74,"v":1.02},{"s":4,"t":13.82,"v":0.99},{"s":4,"t":13.9,"v":1.05},{"s":4,"t":13.99,"v":1.11},{"s":4,"t":14.08,"v":1.15},{"s":4,"t":14.16,"v":1.18},{"s":4,"t":14.25,"v":1.15},{"s":4,"t":14.33,"v":1.11},{"s":4,"t":14.42,"v":1.05},{"s":4,"t":14.5,"v":0.99},{"s":4,"t":14.58,"v":1.06},{"s":4,"t":14.67,"v":1.13},{"s":4,"t":14.76,"v":1.16},{"s":4,"t":14.84,"v":1.18},{"s":4,"t":14.92,"v":1.1},{"s":4,"t":15.01,"v":1.01},{"s":4,"t":15.09,"v":1.08},{"s":4,"t":15.18,"v":1.155},{"s":4,"t":15.27,"v":1.18},{"s":4,"t":15.35,"v":1.17},{"s":4,"t":15.44,"v":1.19},{"s":4,"t":15.52,"v":1.13},{"s":4,"t":15.61,"v":1.1},{"s":4,"t":15.7,"v":1.08},{"s":4,"t":15.78,"v":0.99},{"s":4,"t":15.87,"v":1.06},{"s":4,"t":15.95,"v":1.13},{"s":4,"t":16.04,"v":1.15},{"s":4,"t":16.12,"v":1.17},{"s":4,"t":16.21,"v":1.08},{"s":4,"t":16.29,"v":1.07},{"s":4,"t":16.38,"v":1.06},{"s":4,"t":16.46,"v":1.11},{"s":4,"t":16.55,"v":1.155},{"s":4,"t":16.63,"v":1.14},{"s":4,"t":16.72,"v":1.12},{"s":4,"t":16.8,"v":1.1},{"s":4,"t":16.89,"v":1.08},{"s":4,"t":16.97,"v":1.07},{"s":4,"t":17.06,"v":1.06},{"s":4,"t":17.14,"v":1.02},{"s":4,"t":17.23,"v":0.98},{"s":4,"t":17.31,"v":1.05},{"s":4,"t":17.4,"v":1.11},{"s":4,"t":17.48,"v":1.15},{"s":4,"t":17.57,"v":1.18},{"s":4,"t":17.66,"v":1.19},{"s":4,"t":17.74,"v":1.2},{"s":4,"t":17.83,"v":1.25},{"s":4,"t":17.91,"v":1.22},{"s":4,"t":18.0,"v":1.18},{"s":4,"t":18.08,"v":1.12},{"s":4,"t":18.17,"v":1.06},{"s":4,"t":18.25,"v":1.09},{"s":4,"t":18.34,"v":1.13},{"s":4,"t":18.42,"v":1.19},{"s":4,"t":18.51,"v":1.24},{"s":4,"t":18.59,"v":1.22},{"s":4,"t":18.68,"v":1.2},{"s":4,"t":18.74,"v":1.16},{"s":4,"t":18.8,"v":1.13},{"s":4,"t":18.86,"v":1.09},{"s":4,"t":18.93,"v":1.06},{"s":4,"t":19.02,"v":1.08},{"s":4,"t":19.1,"v":1.11},{"s":4,"t":19.18,"v":1.15},{"s":4,"t":19.27,"v":1.18},{"s":4,"t":19.36,"v":1.23},{"s":4,"t":19.44,"v":1.18},{"s":4,"t":19.53,"v":1.13},{"s":4,"t":19.61,"v":1.09},{"s":4,"t":19.7,"v":1.06},{"s":4,"t":19.79,"v":1.1},{"s":4,"t":19.87,"v":1.13},{"s":4,"t":19.96,"v":1.17},{"s":4,"t":20.04,"v":1.2},{"s":4,"t":20.13,"v":1.24},{"s":4,"t":20.22,"v":1.18},{"s":4,"t":20.3,"v":1.13},{"s":4,"t":20.4,"v":1.07},{"s":4,"t":20.47,"v":1.03},{"s":4,"t":20.52,"v":1.01},{"s":4,"t":20.6,"v":1.1},{"s":4,"t":20.69,"v":1.18},{"s":4,"t":20.77,"v":1.2},{"s":4,"t":20.86,"v":1.21},{"s":4,"t":20.94,"v":1.2},{"s":4,"t":21.03,"v":1.19},{"s":4,"t":21.09,"v":1.15},{"s":4,"t":21.15,"v":1.11},{"s":4,"t":21.22,"v":1.08},{"s":4,"t":21.28,"v":1.06},{"s":4,"t":21.36,"v":1.1},{"s":4,"t":21.45,"v":1.13},{"s":4,"t":21.54,"v":1.16},{"s":4,"t":21.63,"v":1.18},{"s":4,"t":21.72,"v":1.16},{"s":4,"t":21.8,"v":1.13},{"s":4,"t":21.88,"v":1.06},{"s":4,"t":21.97,"v":1.05},{"s":4,"t":22.05,"v":1.04},{"s":4,"t":22.14,"v":1.12},{"s":4,"t":22.22,"v":1.2},{"s":4,"t":22.31,"v":1.21},{"s":4,"t":22.39,"v":1.21},{"s":4,"t":22.48,"v":1.2},{"s":4,"t":22.56,"v":1.18},{"s":4,"t":22.65,"v":1.12},{"s":4,"t":22.73,"v":1.06},{"s":4,"t":22.82,"v":1.07},{"s":4,"t":22.9,"v":1.08},{"s":4,"t":22.99,"v":1.15},{"s":4,"t":23.07,"v":1.21},{"s":4,"t":23.16,"v":1.22},{"s":4,"t":23.24,"v":1.23},{"s":4,"t":23.33,"v":1.18},{"s":4,"t":23.42,"v":1.13},{"s":4,"t":23.5,"v":1.09},{"s":4,"t":23.59,"v":1.06},{"s":4,"t":23.67,"v":1.08},{"s":4,"t":23.76,"v":1.11},{"s":4,"t":23.82,"v":1.16},{"s":4,"t":23.88,"v":1.21},{"s":4,"t":23.96,"v":1.21},{"s":4,"t":24.05,"v":1.2},{"s":4,"t":24.12,"v":1.18},{"s":4,"t":24.18,"v":1.155},{"s":4,"t":24.27,"v":1.1},{"s":4,"t":24.35,"v":1.06},{"s":4,"t":24.42,"v":1.13},{"s":4,"t":24.49,"v":1.2},{"s":4,"t":24.57,"v":1.22},{"s":4,"t":24.66,"v":1.23},{"s":4,"t":24.74,"v":1.2},{"s":4,"t":24.83,"v":1.155},{"s":4,"t":24.9,"v":1.1},{"s":4,"t":24.95,"v":1.06},{"s":4,"t":25.0,"v":1.08}
]},
"layer":[
{"mark":{"type":"line","strokeWidth":1.5,"clip":true},
"encoding":{
"x":{"field":"t","type":"quantitative","scale":{"domain":[0,25],"nice":false,"zero":false},"axis":{"values":[0,5,10,15,20,25],"title":"Time (s)","labelPadding":18.7,"titleBaseline":"alphabetic","titleY":64,"grid":true}},
"y":{"field":"v","type":"quantitative","scale":{"domain":[0,1.8],"nice":false},"axis":{"values":[0,0.2,0.4,0.6,0.8,1,1.2,1.4,1.6,1.8],"format":"~g","title":"Frames ahead of requirement","titleFontSize":22,"labelPadding":23,"titleX":-63,"titleBaseline":"alphabetic","titleAngle":270,"grid":true}},
"color":{"field":"s","type":"nominal","scale":{"domain":[1,2,3,4],"range":["#00ee00","#00b400","#006000","#000000"]},
"legend":{"orient":"none","legendX":346,"legendY":157,"title":null,"symbolType":"M-5.17,0H5.17","symbolSize":144,"symbolStrokeWidth":1.5,"labelAlign":"right","labelOffset":-55,"symbolOffset":74,"rowPadding":-2.4,"padding":0,"labelFontSize":21,"labelFont":"Liberation Sans","labelColor":"#000","labelLimit":0,"labelExpr":"datum.value == 1 ? '1 core' : datum.value + ' cores'"}}}},
{"mark":{"type":"line","opacity":0},
"encoding":{
"x":{"field":"t","type":"quantitative","scale":{"domain":[0,25],"nice":false,"zero":false},"axis":{"orient":"top","labels":false,"grid":false,"title":null,"values":[0,5,10,15,20,25]}},
"y":{"field":"v","type":"quantitative","scale":{"domain":[0,1.8],"nice":false},"axis":{"orient":"right","labels":false,"grid":false,"title":null,"values":[0,0.2,0.4,0.6,0.8,1,1.2,1.4,1.6,1.8]}},
"detail":{"field":"s","type":"nominal"}}}
],
"resolve":{"axis":{"x":"independent","y":"independent"}}
}
